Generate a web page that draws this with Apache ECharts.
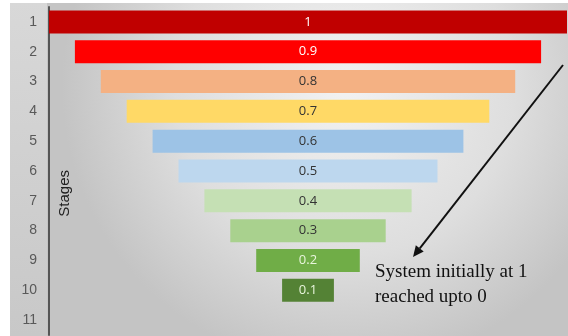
<!DOCTYPE html>
<html>
<head>
<meta charset="utf-8">
<style>
  html, body { margin: 0; padding: 0; background: #fff; }
  #chart { width: 568px; height: 336px; }
</style>
<script src="https://cdn.jsdelivr.net/npm/echarts@6/dist/echarts.min.js"></script>
</head>
<body>
<div id="chart"></div>
<script>
// stage numbers on the left axis
const stages = ['1', '2', '3', '4', '5', '6', '7', '8', '9', '10', '11'];
// value of each stage (stage 11 has no bar)
const values = [1, 0.9, 0.8, 0.7, 0.6, 0.5, 0.4, 0.3, 0.2, 0.1, null];
const barColors = ['#C00000', '#FF0000', '#F4B183', '#FFD966', '#9DC3E6',
                   '#BDD7EE', '#C5E0B4', '#A9D18E', '#70AD47', '#548235', '#ffffff'];
const labelColors = ['#ffffff', '#ffffff', '#333333', '#333333', '#333333',
                     '#333333', '#333333', '#333333', '#e8f5dc', '#e8f5dc', '#333333'];

// transparent padding so every bar sits centred (funnel look)
const pad = values.map(v => v == null ? null : (1 - v) / 2);

let chart = echarts.init(document.getElementById('chart'), null, { renderer: 'canvas' });

// arrow geometry
const tail = [563, 65], tip = [413, 257];
const len = Math.hypot(tip[0] - tail[0], tip[1] - tail[1]);
const ux = (tip[0] - tail[0]) / len, uy = (tip[1] - tail[1]) / len;
const base = [tip[0] - ux * 11, tip[1] - uy * 11];
const px = -uy * 5, py = ux * 5;

let option = {
  animation: false,
  graphic: [
    {
      type: 'rect', z: -10, silent: true,
      shape: { x: 10, y: 3, width: 558, height: 333 },
      style: {
        fill: {
          type: 'radial', x: 0.6, y: 0.25, r: 0.85,
          colorStops: [
            { offset: 0, color: '#f2f2f2' },
            { offset: 0.6, color: '#dedede' },
            { offset: 1, color: '#c4c4c4' }
          ]
        }
      }
    },
    {
      type: 'rect', z: -9, silent: true,
      shape: { x: 10, y: 3, width: 37, height: 333 },
      style: {
        fill: {
          type: 'linear', x: 0, y: 0, x2: 0, y2: 1,
          colorStops: [
            { offset: 0, color: '#d8d8d8' },
            { offset: 1, color: '#c8c8c8' }
          ]
        }
      }
    },
    {
      type: 'text', left: 57, top: 170, rotation: Math.PI / 2, z: 10,
      style: { text: 'Stages', fontFamily: 'Liberation Sans', fontSize: 15, fill: '#222' }
    },
    {
      type: 'line', z: 10,
      shape: { x1: tail[0], y1: tail[1], x2: base[0], y2: base[1] },
      style: { stroke: '#111', lineWidth: 2 }
    },
    {
      type: 'polygon', z: 10,
      shape: { points: [tip, [base[0] + px, base[1] + py], [base[0] - px, base[1] - py]] },
      style: { fill: '#111' }
    },
    {
      type: 'text', left: 375, top: 260, z: 10,
      style: {
        text: 'System initially at 1\nreached upto 0',
        fontFamily: 'Liberation Serif', fontSize: 19, lineHeight: 25, fill: '#111'
      }
    }
  ],
  grid: { left: 49, right: 1, top: 7, bottom: 1 },
  xAxis: {
    type: 'value', min: 0, max: 1, show: false
  },
  yAxis: {
    type: 'category',
    data: stages,
    inverse: true,
    axisLine: { show: true, lineStyle: { color: '#555', width: 2 } },
    axisTick: { show: false },
    axisLabel: { color: '#595959', fontSize: 14, fontFamily: 'Liberation Sans', margin: 12 }
  },
  series: [
    {
      type: 'bar', stack: 'f', data: pad, barWidth: 23,
      itemStyle: { color: 'transparent' }, silent: true
    },
    {
      type: 'bar', stack: 'f', barWidth: 23,
      data: values.map((v, i) => ({
        value: v,
        itemStyle: { color: barColors[i] },
        label: { color: labelColors[i] }
      })),
      label: {
        show: true, position: 'inside', fontSize: 13, fontFamily: 'Open Sans',
        formatter: p => p.value
      }
    }
  ]
};

option && chart.setOption(option);
</script>
</body>
</html>
